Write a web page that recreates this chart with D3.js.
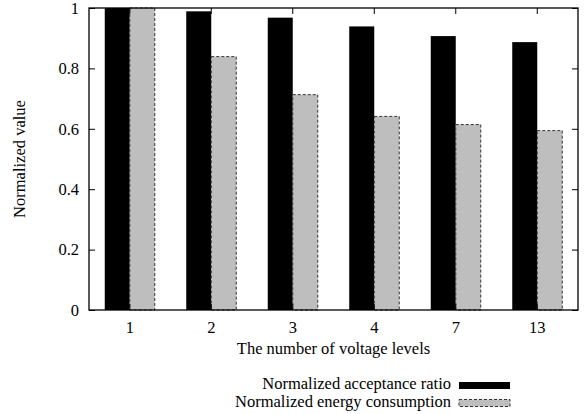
<!DOCTYPE html>
<meta charset="utf-8">
<style>
    body {margin: 0; background: #fff;}
</style>
<svg width="585" height="414"></svg>
<script src="https://d3js.org/d3.v7.min.js"></script>
<script>

var levels = ["1", "2", "3", "4", "7", "13"];
var acceptance = [1.0, 0.989, 0.968, 0.939, 0.907, 0.887];
var energy = [1.0, 0.839, 0.713, 0.641, 0.614, 0.594];
var yTicks = [0, 0.2, 0.4, 0.6, 0.8, 1];

var svg = d3.select("svg"),
    margin = {top: 8, right: 7, bottom: 104, left: 89},
    width = +svg.attr("width") - margin.left - margin.right,
    height = +svg.attr("height") - margin.top - margin.bottom;

var g = svg.append("g").attr("transform", "translate(" + margin.left + "," + margin.top + ")");

var x = d3.scaleBand().domain(levels).range([0, width]);
var y = d3.scaleLinear().domain([0, 1]).range([height, 0]);
var barW = 25;

// bars
g.selectAll(".acc")
    .data(levels)
    .enter().append("rect")
    .attr("class", "acc")
    .attr("x", function(d) { return x(d) + x.bandwidth() / 2 - barW; })
    .attr("y", function(d, i) { return y(acceptance[i]); })
    .attr("width", barW)
    .attr("height", function(d, i) { return height - y(acceptance[i]); })
    .style("fill", "#000");

g.selectAll(".en")
    .data(levels)
    .enter().append("rect")
    .attr("class", "en")
    .attr("x", function(d) { return x(d) + x.bandwidth() / 2; })
    .attr("y", function(d, i) { return y(energy[i]); })
    .attr("width", barW)
    .attr("height", function(d, i) { return height - y(energy[i]); })
    .style("fill", "#bebebe")
    .style("stroke", "#333")
    .style("stroke-width", 1)
    .style("stroke-dasharray", "3,2");

// axes: ticks pointing inward on all four sides
var tickOpts = function(a, pad) { return a.tickSizeOuter(0).tickSizeInner(-6).tickPadding(pad); };

g.append("g").attr("class", "axis")
    .call(tickOpts(d3.axisLeft(y).tickValues(yTicks).tickFormat(function(d) { return d === 0 || d === 1 ? d : d.toFixed(1); }), 10));
g.append("g").attr("class", "axis")
    .attr("transform", "translate(" + width + ",0)")
    .call(tickOpts(d3.axisRight(y).tickValues(yTicks).tickFormat(""), 10));
g.append("g").attr("class", "axis")
    .attr("transform", "translate(0," + height + ")")
    .call(tickOpts(d3.axisBottom(x), 11));
g.append("g").attr("class", "axis")
    .call(tickOpts(d3.axisTop(x).tickFormat(""), 10));

g.selectAll(".axis .domain").remove();
g.selectAll(".axis line").style("stroke", "#000");

g.append("rect")
    .attr("width", width)
    .attr("height", height)
    .style("fill", "none")
    .style("stroke", "#000")
    .style("stroke-width", 1.3);

// titles
svg.append("text")
    .attr("x", margin.left + width / 2)
    .attr("y", 354)
    .attr("text-anchor", "middle")
    .text("The number of voltage levels");

svg.append("text")
    .attr("transform", "translate(25," + (margin.top + height / 2) + ") rotate(-90)")
    .attr("text-anchor", "middle")
    .text("Normalized value");

// legend
var legend = [
    {name: "Normalized acceptance ratio", fill: "#000", dash: null},
    {name: "Normalized energy consumption", fill: "#bebebe", dash: "3,2"}
];
var lg = svg.selectAll(".leg").data(legend).enter().append("g")
    .attr("transform", function(d, i) { return "translate(0," + (389 + i * 17.5) + ")"; });
lg.append("text")
    .attr("x", 451)
    .attr("y", 0)
    .attr("text-anchor", "end")
    .text(function(d) { return d.name; });
lg.append("rect")
    .attr("x", 459)
    .attr("y", -7)
    .attr("width", 51)
    .attr("height", 7)
    .style("fill", function(d) { return d.fill; })
    .style("stroke", function(d) { return d.dash ? "#333" : "none"; })
    .style("stroke-dasharray", function(d) { return d.dash; });

// serif font everywhere, set inline
svg.selectAll("text")
    .attr("font-family", "Liberation Serif")
    .style("font-family", "'Liberation Serif', 'Times New Roman', serif")
    .style("font-size", "16.5px")
    .style("fill", "#000");

</script>
